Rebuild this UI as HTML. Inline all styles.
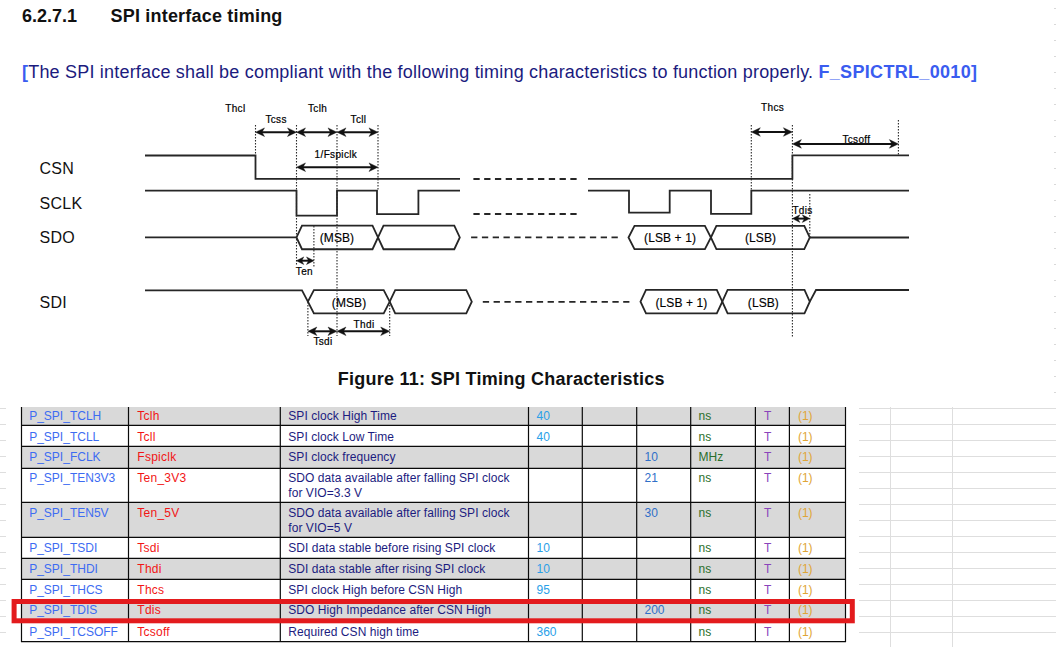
<!DOCTYPE html>
<html><head><meta charset="utf-8"><title>SPI interface timing</title>
<style>
html,body{margin:0;padding:0;background:#fff;width:1056px;height:647px;overflow:hidden}
svg{display:block;font-family:"Liberation Sans", sans-serif}
</style></head><body>
<svg width="1056" height="647" viewBox="0 0 1056 647">

<path d="M1054,8.5H1056 M1054,24.5H1056 M1054,40.5H1056 M1054,56.5H1056 M1054,72.5H1056 M1054,88.5H1056 M1054,104.5H1056 M1054,120.5H1056 M1054,136.5H1056 M1054,152.5H1056 M1054,168.5H1056 M1054,184.5H1056 M1054,200.5H1056 M1054,216.5H1056 M1054,232.5H1056 M1054,248.5H1056 M1054,264.5H1056 M1054,280.5H1056 M1054,296.5H1056 M1054,312.5H1056 M1054,328.5H1056 M1054,344.5H1056 M1054,360.5H1056 M1054,376.5H1056 M1054,392.5H1056 M1054,408.5H1056 M1054,424.5H1056 M1054,440.5H1056 M1054,456.5H1056 M1054,472.5H1056 M1054,488.5H1056 M1054,504.5H1056 M1054,520.5H1056 M1054,536.5H1056 M1054,552.5H1056 M1054,568.5H1056 M1054,584.5H1056 M1054,600.5H1056 M1054,616.5H1056 M1054,632.5H1056" stroke="#d8d8d8" stroke-width="1" fill="none"/>
<text x="22" y="21.5" font-size="18" font-weight="bold" fill="#111">6.2.7.1</text>
<text x="110.5" y="21.5" font-size="18" font-weight="bold" fill="#111" letter-spacing="0.2">SPI interface timing</text>
<text x="22" y="77.8" font-size="18" fill="#1b1b7e" letter-spacing="0.2"><tspan font-weight="bold" fill="#3a5cf0">[</tspan>The SPI interface shall be compliant with the following timing characteristics to function properly. <tspan font-weight="bold" fill="#3a5cf0" letter-spacing="0.32">F_SPICTRL_0010]</tspan></text>
<text x="39.5" y="174" font-size="16" fill="#111" letter-spacing="0.3">CSN</text>
<text x="39.5" y="208.6" font-size="16" fill="#111" letter-spacing="0.3">SCLK</text>
<text x="39.5" y="243" font-size="16" fill="#111" letter-spacing="0.3">SDO</text>
<text x="39.5" y="307.8" font-size="16" fill="#111" letter-spacing="0.3">SDI</text>
<path d="M145,155.5H255.5V178.9H460" stroke="#262626" stroke-width="1.8" fill="none" stroke-linejoin="miter"/>
<path d="M473.4,179H576.8" stroke="#262626" stroke-width="1.8" fill="none" stroke-linejoin="miter" stroke-dasharray="6.3,4.47"/>
<path d="M588,178.9H792.4V155.3H909" stroke="#262626" stroke-width="1.8" fill="none" stroke-linejoin="miter"/>
<path d="M145,190.6H296.5V215.6H337V190.6H377V214.2H418.4V190.6H460" stroke="#262626" stroke-width="1.8" fill="none" stroke-linejoin="miter"/>
<path d="M473.4,214H576.8" stroke="#262626" stroke-width="1.8" fill="none" stroke-linejoin="miter" stroke-dasharray="6.3,4.47"/>
<path d="M588,190.6H629V212.6H669.7V190.6H711V213.8H751.3V190.6H909" stroke="#262626" stroke-width="1.8" fill="none" stroke-linejoin="miter"/>
<path d="M145,237.4H296.5" stroke="#262626" stroke-width="1.8" fill="none" stroke-linejoin="miter"/>
<path d="M296.5,237.4L302.0,225.55H372.5L378,237.4L372.5,249.25H302.0Z" stroke="#262626" stroke-width="1.8" fill="none" stroke-linejoin="miter"/>
<path d="M378,237.4L383.5,225.55H454.3L459.8,237.4L454.3,249.25H383.5Z" stroke="#262626" stroke-width="1.8" fill="none" stroke-linejoin="miter"/>
<path d="M471.1,237.4H617.8" stroke="#262626" stroke-width="1.8" fill="none" stroke-linejoin="miter" stroke-dasharray="6.3,4.5"/>
<path d="M628.5,237.5L634.5,225.85H704.9L710.9,237.5L704.9,249.15H634.5Z" stroke="#262626" stroke-width="1.8" fill="none" stroke-linejoin="miter"/>
<path d="M710.9,237.5L716.4,225.85H804.3L809.8,237.5L804.3,249.15H716.4Z" stroke="#262626" stroke-width="1.8" fill="none" stroke-linejoin="miter"/>
<path d="M809.8,237.5H909" stroke="#262626" stroke-width="1.8" fill="none" stroke-linejoin="miter"/>
<path d="M145,290.3H302L307.9,301.7" stroke="#262626" stroke-width="1.8" fill="none" stroke-linejoin="miter"/>
<path d="M307.9,301.7L313.9,290.09999999999997H383.7L389.7,301.7L383.7,313.3H313.9Z" stroke="#262626" stroke-width="1.8" fill="none" stroke-linejoin="miter"/>
<path d="M389.7,301.7L395.2,290.09999999999997H466.3L471.8,301.7L466.3,313.3H395.2Z" stroke="#262626" stroke-width="1.8" fill="none" stroke-linejoin="miter"/>
<path d="M482.8,301.8H629.4" stroke="#262626" stroke-width="1.8" fill="none" stroke-linejoin="miter" stroke-dasharray="6.3,4.5"/>
<path d="M640.5,301.7L646.0,289.95H716.8L722.3,301.7L716.8,313.45H646.0Z" stroke="#262626" stroke-width="1.8" fill="none" stroke-linejoin="miter"/>
<path d="M722.3,301.7L727.5999999999999,289.95H804.5L809.8,301.7L804.5,313.45H727.5999999999999Z" stroke="#262626" stroke-width="1.8" fill="none" stroke-linejoin="miter"/>
<path d="M809.8,301.7L816,290H909" stroke="#262626" stroke-width="1.8" fill="none" stroke-linejoin="miter"/>
<path d="M255.5,125V155.5" stroke="#2a2a2a" stroke-width="1.1" fill="none" stroke-linejoin="miter" stroke-dasharray="1.5,1.5"/>
<path d="M296.5,125V266" stroke="#2a2a2a" stroke-width="1.1" fill="none" stroke-linejoin="miter" stroke-dasharray="1.5,1.5"/>
<path d="M337,125V336" stroke="#2a2a2a" stroke-width="1.1" fill="none" stroke-linejoin="miter" stroke-dasharray="1.5,1.5"/>
<path d="M378,125V190" stroke="#2a2a2a" stroke-width="1.1" fill="none" stroke-linejoin="miter" stroke-dasharray="1.5,1.5"/>
<path d="M313.9,226V267" stroke="#2a2a2a" stroke-width="1.1" fill="none" stroke-linejoin="miter" stroke-dasharray="1.5,1.5"/>
<path d="M307.9,302V336" stroke="#2a2a2a" stroke-width="1.1" fill="none" stroke-linejoin="miter" stroke-dasharray="1.5,1.5"/>
<path d="M389.7,302V336" stroke="#2a2a2a" stroke-width="1.1" fill="none" stroke-linejoin="miter" stroke-dasharray="1.5,1.5"/>
<path d="M751.3,125V190.6" stroke="#2a2a2a" stroke-width="1.1" fill="none" stroke-linejoin="miter" stroke-dasharray="1.5,1.5"/>
<path d="M792.4,125V337" stroke="#2a2a2a" stroke-width="1.1" fill="none" stroke-linejoin="miter" stroke-dasharray="1.5,1.5"/>
<path d="M898.4,120V155" stroke="#2a2a2a" stroke-width="1.1" fill="none" stroke-linejoin="miter" stroke-dasharray="1.5,1.5"/>
<path d="M809.8,194V237" stroke="#2a2a2a" stroke-width="1.1" fill="none" stroke-linejoin="miter" stroke-dasharray="1.5,1.5"/>
<path d="M258.5,132.2H293.5" stroke="#111" stroke-width="2.0" fill="none" stroke-linejoin="miter"/>
<path d="M255.5,132.2L264.5,127.89999999999999L261.98,132.2L264.5,136.5Z M296.5,132.2L287.5,127.89999999999999L290.02,132.2L287.5,136.5Z" fill="#111" stroke="#111" stroke-width="0.4" stroke-linejoin="miter"/>
<path d="M299.5,132.2H334" stroke="#111" stroke-width="2.0" fill="none" stroke-linejoin="miter"/>
<path d="M296.5,132.2L305.5,127.89999999999999L302.98,132.2L305.5,136.5Z M337,132.2L328,127.89999999999999L330.52,132.2L328,136.5Z" fill="#111" stroke="#111" stroke-width="0.4" stroke-linejoin="miter"/>
<path d="M340,132.2H375" stroke="#111" stroke-width="2.0" fill="none" stroke-linejoin="miter"/>
<path d="M337,132.2L346,127.89999999999999L343.48,132.2L346,136.5Z M378,132.2L369,127.89999999999999L371.52,132.2L369,136.5Z" fill="#111" stroke="#111" stroke-width="0.4" stroke-linejoin="miter"/>
<path d="M299.5,167.2H375" stroke="#111" stroke-width="2.0" fill="none" stroke-linejoin="miter"/>
<path d="M296.5,167.2L305.5,162.89999999999998L302.98,167.2L305.5,171.5Z M378,167.2L369,162.89999999999998L371.52,167.2L369,171.5Z" fill="#111" stroke="#111" stroke-width="0.4" stroke-linejoin="miter"/>
<path d="M299.3,260.7H311" stroke="#111" stroke-width="2.0" fill="none" stroke-linejoin="miter"/>
<path d="M296.3,260.7L303.8,256.9L301.7,260.7L303.8,264.5Z M314,260.7L306.5,256.9L308.6,260.7L306.5,264.5Z" fill="#111" stroke="#111" stroke-width="0.4" stroke-linejoin="miter"/>
<path d="M310.9,331.3H334" stroke="#111" stroke-width="2.0" fill="none" stroke-linejoin="miter"/>
<path d="M307.9,331.3L316.9,327.0L314.38,331.3L316.9,335.6Z M337,331.3L328,327.0L330.52,331.3L328,335.6Z" fill="#111" stroke="#111" stroke-width="0.4" stroke-linejoin="miter"/>
<path d="M340,331.3H386.7" stroke="#111" stroke-width="2.0" fill="none" stroke-linejoin="miter"/>
<path d="M337,331.3L346,327.0L343.48,331.3L346,335.6Z M389.7,331.3L380.7,327.0L383.21999999999997,331.3L380.7,335.6Z" fill="#111" stroke="#111" stroke-width="0.4" stroke-linejoin="miter"/>
<path d="M754.3,132H789.4" stroke="#111" stroke-width="2.0" fill="none" stroke-linejoin="miter"/>
<path d="M751.3,132L760.3,127.7L757.78,132L760.3,136.3Z M792.4,132L783.4,127.7L785.92,132L783.4,136.3Z" fill="#111" stroke="#111" stroke-width="0.4" stroke-linejoin="miter"/>
<path d="M795.4,143.9H895.4" stroke="#111" stroke-width="2.0" fill="none" stroke-linejoin="miter"/>
<path d="M792.4,143.9L801.4,139.6L798.88,143.9L801.4,148.20000000000002Z M898.4,143.9L889.4,139.6L891.92,143.9L889.4,148.20000000000002Z" fill="#111" stroke="#111" stroke-width="0.4" stroke-linejoin="miter"/>
<path d="M795.4,218.6H806.8" stroke="#111" stroke-width="2.0" fill="none" stroke-linejoin="miter"/>
<path d="M792.4,218.6L799.9,214.79999999999998L797.8,218.6L799.9,222.4Z M809.8,218.6L802.3,214.79999999999998L804.4,218.6L802.3,222.4Z" fill="#111" stroke="#111" stroke-width="0.4" stroke-linejoin="miter"/>
<text x="225.2" y="111.5" font-size="10" fill="#000" stroke="#000" stroke-width="0.2" letter-spacing="0.35">Thcl</text>
<text x="265.4" y="123.1" font-size="10" fill="#000" stroke="#000" stroke-width="0.2" letter-spacing="0.35">Tcss</text>
<text x="308" y="111.5" font-size="10" fill="#000" stroke="#000" stroke-width="0.2" letter-spacing="0.35">Tclh</text>
<text x="350.6" y="123.1" font-size="10" fill="#000" stroke="#000" stroke-width="0.2" letter-spacing="0.35">Tcll</text>
<text x="314.6" y="157.5" font-size="10" fill="#000" stroke="#000" stroke-width="0.2" letter-spacing="0.35">1/Fspiclk</text>
<text x="295.8" y="275.2" font-size="10" fill="#000" stroke="#000" stroke-width="0.2" letter-spacing="0.35">Ten</text>
<text x="313.4" y="345.2" font-size="10" fill="#000" stroke="#000" stroke-width="0.2" letter-spacing="0.35">Tsdi</text>
<text x="353.6" y="327.6" font-size="10" fill="#000" stroke="#000" stroke-width="0.2" letter-spacing="0.35">Thdi</text>
<text x="792.4" y="213.8" font-size="10" fill="#000" stroke="#000" stroke-width="0.2" letter-spacing="0.35">Tdis</text>
<text x="772.6" y="111.2" font-size="10" fill="#000" stroke="#000" stroke-width="0.2" letter-spacing="0.35" text-anchor="middle">Thcs</text>
<text x="856.4" y="142.7" font-size="10" fill="#000" stroke="#000" stroke-width="0.2" letter-spacing="0.35" text-anchor="middle">Tcsoff</text>
<text x="319.7" y="241.8" font-size="12" fill="#000" stroke="#000" stroke-width="0.15" letter-spacing="0.1">(MSB)</text>
<text x="331.8" y="307.3" font-size="12" fill="#000" stroke="#000" stroke-width="0.15" letter-spacing="0.1">(MSB)</text>
<text x="644.1" y="242.2" font-size="12" fill="#000" stroke="#000" stroke-width="0.15" letter-spacing="0.1">(LSB + 1)</text>
<text x="745" y="242.2" font-size="12" fill="#000" stroke="#000" stroke-width="0.15" letter-spacing="0.1">(LSB)</text>
<text x="655.5" y="307" font-size="12" fill="#000" stroke="#000" stroke-width="0.15" letter-spacing="0.1">(LSB + 1)</text>
<text x="747.8" y="307" font-size="12" fill="#000" stroke="#000" stroke-width="0.15" letter-spacing="0.1">(LSB)</text>
<text x="337.8" y="385.3" font-size="18" font-weight="bold" fill="#111" letter-spacing="0.25">Figure 11: SPI Timing Characteristics</text>
<path d="M859,408.5H1056 M859,424.5H1056 M859,440.5H1056 M859,456.5H1056 M859,472.5H1056 M859,488.5H1056 M859,504.5H1056 M859,520.5H1056 M859,536.5H1056 M859,552.5H1056 M859,568.5H1056 M859,584.5H1056 M859,600.5H1056 M859,616.5H1056 M859,632.5H1056 M890.5,407V647 M952.5,407V647" stroke="#dedede" stroke-width="1" fill="none"/>
<path d="M0,408.5H6 M0,424.5H6 M0,440.5H6 M0,456.5H6 M0,472.5H6 M0,488.5H6 M0,504.5H6 M0,520.5H6 M0,536.5H6 M0,552.5H6 M0,568.5H6 M0,584.5H6 M0,600.5H6 M0,616.5H6 M0,632.5H6" stroke="#dedede" stroke-width="1" fill="none"/>
<rect x="21.5" y="407" width="824.0" height="18.30000000000001" fill="#d9d9d9"/>
<rect x="21.5" y="446.4" width="824.0" height="22.0" fill="#d9d9d9"/>
<rect x="21.5" y="502.3" width="824.0" height="35.099999999999966" fill="#d9d9d9"/>
<rect x="21.5" y="558.4" width="824.0" height="20.899999999999977" fill="#d9d9d9"/>
<rect x="21.5" y="600.2" width="824.0" height="20.799999999999955" fill="#d9d9d9"/>
<path d="M21.0,425.3H846.0 M21.0,446.4H846.0 M21.0,468.4H846.0 M21.0,502.3H846.0 M21.0,537.4H846.0 M21.0,558.4H846.0 M21.0,579.3H846.0 M21.0,600.2H846.0 M21.0,621H846.0 M21.0,641.6H846.0 M21.5,407V642.1 M128.5,407V642.1 M280.3,407V642.1 M528.5,407V642.1 M582.3,407V642.1 M636.7,407V642.1 M690.7,407V642.1 M755.4,407V642.1 M789.4,407V642.1 M845.5,407V642.1" stroke="#0a0a0a" stroke-width="1.2" fill="none"/>
<text x="29.2" y="419.8" font-size="12" fill="#3d6cf2">P_SPI_TCLH</text>
<text x="137.3" y="419.8" font-size="12" fill="#f21515" letter-spacing="0.25">Tclh</text>
<text x="288.3" y="419.8" font-size="12" fill="#1c1c80" letter-spacing="0.06">SPI clock High Time</text>
<text x="536.5" y="419.8" font-size="12" fill="#2aa0e8">40</text>
<text x="698.5" y="419.8" font-size="12" fill="#2a6e2a">ns</text>
<text x="764" y="419.8" font-size="12" fill="#8a44bb">T</text>
<text x="797.9" y="419.8" font-size="12" fill="#e0a535">(1)</text>
<text x="29.2" y="440.5" font-size="12" fill="#3d6cf2">P_SPI_TCLL</text>
<text x="137.3" y="440.5" font-size="12" fill="#f21515" letter-spacing="0.25">Tcll</text>
<text x="288.3" y="440.5" font-size="12" fill="#1c1c80" letter-spacing="0.06">SPI clock Low Time</text>
<text x="536.5" y="440.5" font-size="12" fill="#2aa0e8">40</text>
<text x="698.5" y="440.5" font-size="12" fill="#2a6e2a">ns</text>
<text x="764" y="440.5" font-size="12" fill="#8a44bb">T</text>
<text x="797.9" y="440.5" font-size="12" fill="#e0a535">(1)</text>
<text x="29.2" y="461" font-size="12" fill="#3d6cf2">P_SPI_FCLK</text>
<text x="137.3" y="461" font-size="12" fill="#f21515" letter-spacing="0.25">Fspiclk</text>
<text x="288.3" y="461.0" font-size="12" fill="#1c1c80" letter-spacing="0.06">SPI clock frequency</text>
<text x="644.5" y="461" font-size="12" fill="#2f6fc8">10</text>
<text x="698.5" y="461" font-size="12" fill="#2a6e2a">MHz</text>
<text x="764" y="461" font-size="12" fill="#8a44bb">T</text>
<text x="797.9" y="461" font-size="12" fill="#e0a535">(1)</text>
<text x="29.2" y="482.2" font-size="12" fill="#3d6cf2">P_SPI_TEN3V3</text>
<text x="137.3" y="482.2" font-size="12" fill="#f21515" letter-spacing="0.25">Ten_3V3</text>
<text x="288.3" y="482.2" font-size="12" fill="#1c1c80" letter-spacing="0.06">SDO data available after falling SPI clock</text>
<text x="288.3" y="496.7" font-size="12" fill="#1c1c80" letter-spacing="0.06">for VIO=3.3 V</text>
<text x="644.5" y="482.2" font-size="12" fill="#2f6fc8">21</text>
<text x="698.5" y="482.2" font-size="12" fill="#2a6e2a">ns</text>
<text x="764" y="482.2" font-size="12" fill="#8a44bb">T</text>
<text x="797.9" y="482.2" font-size="12" fill="#e0a535">(1)</text>
<text x="29.2" y="517.2" font-size="12" fill="#3d6cf2">P_SPI_TEN5V</text>
<text x="137.3" y="517.2" font-size="12" fill="#f21515" letter-spacing="0.25">Ten_5V</text>
<text x="288.3" y="517.2" font-size="12" fill="#1c1c80" letter-spacing="0.06">SDO data available after falling SPI clock</text>
<text x="288.3" y="531.7" font-size="12" fill="#1c1c80" letter-spacing="0.06">for VIO=5 V</text>
<text x="644.5" y="517.2" font-size="12" fill="#2f6fc8">30</text>
<text x="698.5" y="517.2" font-size="12" fill="#2a6e2a">ns</text>
<text x="764" y="517.2" font-size="12" fill="#8a44bb">T</text>
<text x="797.9" y="517.2" font-size="12" fill="#e0a535">(1)</text>
<text x="29.2" y="551.8" font-size="12" fill="#3d6cf2">P_SPI_TSDI</text>
<text x="137.3" y="551.8" font-size="12" fill="#f21515" letter-spacing="0.25">Tsdi</text>
<text x="288.3" y="551.8" font-size="12" fill="#1c1c80" letter-spacing="0.06">SDI data stable before rising SPI clock</text>
<text x="536.5" y="551.8" font-size="12" fill="#2aa0e8">10</text>
<text x="698.5" y="551.8" font-size="12" fill="#2a6e2a">ns</text>
<text x="764" y="551.8" font-size="12" fill="#8a44bb">T</text>
<text x="797.9" y="551.8" font-size="12" fill="#e0a535">(1)</text>
<text x="29.2" y="573.2" font-size="12" fill="#3d6cf2">P_SPI_THDI</text>
<text x="137.3" y="573.2" font-size="12" fill="#f21515" letter-spacing="0.25">Thdi</text>
<text x="288.3" y="573.2" font-size="12" fill="#1c1c80" letter-spacing="0.06">SDI data stable after rising SPI clock</text>
<text x="536.5" y="573.2" font-size="12" fill="#2aa0e8">10</text>
<text x="698.5" y="573.2" font-size="12" fill="#2a6e2a">ns</text>
<text x="764" y="573.2" font-size="12" fill="#8a44bb">T</text>
<text x="797.9" y="573.2" font-size="12" fill="#e0a535">(1)</text>
<text x="29.2" y="593.9" font-size="12" fill="#3d6cf2">P_SPI_THCS</text>
<text x="137.3" y="593.9" font-size="12" fill="#f21515" letter-spacing="0.25">Thcs</text>
<text x="288.3" y="593.9" font-size="12" fill="#1c1c80" letter-spacing="0.06">SPI clock High before CSN High</text>
<text x="536.5" y="593.9" font-size="12" fill="#2aa0e8">95</text>
<text x="698.5" y="593.9" font-size="12" fill="#2a6e2a">ns</text>
<text x="764" y="593.9" font-size="12" fill="#8a44bb">T</text>
<text x="797.9" y="593.9" font-size="12" fill="#e0a535">(1)</text>
<text x="29.2" y="614.3" font-size="12" fill="#3d6cf2">P_SPI_TDIS</text>
<text x="137.3" y="614.3" font-size="12" fill="#f21515" letter-spacing="0.25">Tdis</text>
<text x="288.3" y="614.3" font-size="12" fill="#1c1c80" letter-spacing="0.06">SDO High Impedance after CSN High</text>
<text x="644.5" y="614.3" font-size="12" fill="#2f6fc8">200</text>
<text x="698.5" y="614.3" font-size="12" fill="#2a6e2a">ns</text>
<text x="764" y="614.3" font-size="12" fill="#8a44bb">T</text>
<text x="797.9" y="614.3" font-size="12" fill="#e0a535">(1)</text>
<text x="29.2" y="635.7" font-size="12" fill="#3d6cf2">P_SPI_TCSOFF</text>
<text x="137.3" y="635.7" font-size="12" fill="#f21515" letter-spacing="0.25">Tcsoff</text>
<text x="288.3" y="635.7" font-size="12" fill="#1c1c80" letter-spacing="0.06">Required CSN high time</text>
<text x="536.5" y="635.7" font-size="12" fill="#2aa0e8">360</text>
<text x="698.5" y="635.7" font-size="12" fill="#2a6e2a">ns</text>
<text x="764" y="635.7" font-size="12" fill="#8a44bb">T</text>
<text x="797.9" y="635.7" font-size="12" fill="#e0a535">(1)</text>
<rect x="14.1" y="601.5" width="838.2" height="19.3" fill="none" stroke="#e31b1d" stroke-width="5"/>
</svg></body></html>
